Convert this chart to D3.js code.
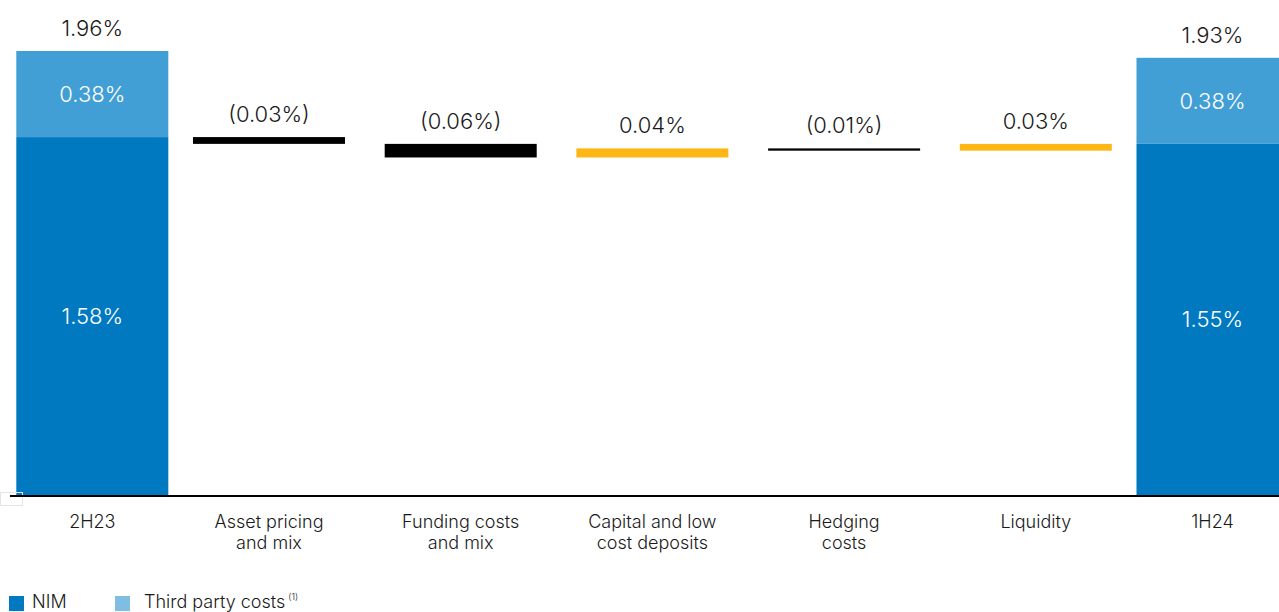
<!DOCTYPE html>
<html>
<head>
<meta charset="utf-8">
<script src="https://cdn.jsdelivr.net/npm/d3@7/dist/d3.min.js"></script>
<style>
  html, body { margin: 0; padding: 0; background: #fff; overflow: hidden; }
  svg { display: block; font-family: Inter, "Noto Sans", sans-serif; }
</style>
</head>
<body>
<svg id="chart" width="1279" height="612"></svg>
<script>
// ---- data ----
const categories = ["2H23", "Asset pricing\nand mix", "Funding costs\nand mix", "Capital and low\ncost deposits", "Hedging\ncosts", "Liquidity", "1H24"];
const nimValues = [1.58, null, null, null, null, null, 1.55];
const thirdPartyValues = [0.38, null, null, null, null, null, 0.38];
const totalValues = [1.96, null, null, null, null, null, 1.93];
const deltaValues = [null, -0.03, -0.06, 0.04, -0.01, 0.03, null];
const nimLabels = ["1.58%", "", "", "", "", "", "1.55%"];
const thirdPartyLabels = ["0.38%", "", "", "", "", "", "0.38%"];
const totalLabels = ["1.96%", "", "", "", "", "", "1.93%"];
const deltaLabels = ["", "(0.03%)", "(0.06%)", "0.04%", "(0.01%)", "0.03%", ""];
const legendLabels = ["NIM", "Third party costs"];

// ---- colours ----
const cNIM = "#0079c1", cTP = "#429fd5", cTPLegend = "#7fbde3", cUp = "#fdb714", cDown = "#000000", cText = "#1a1a1a";

const svg = d3.select("#chart");
const x = d3.scaleBand().domain(categories).range([1.3, 1303.5]).paddingInner(0.207).paddingOuter(0);
const y = d3.scaleLinear().domain([0, 1.96]).range([495, 51]);
const endShift = i => (i === 0 ? 15 : i === categories.length - 1 ? -15 : 0);
const bx = (d, i) => x(categories[i]) + endShift(i);
const cx = (d, i) => bx(d, i) + x.bandwidth() / 2;

// total bars
const totIdx = categories.map((c, i) => i).filter(i => nimValues[i] != null);
svg.selectAll("rect.nim").data(totIdx).join("rect")
  .attr("x", i => bx(null, i)).attr("width", x.bandwidth())
  .attr("y", i => y(nimValues[i])).attr("height", i => y(0) - y(nimValues[i]))
  .attr("fill", cNIM);
svg.selectAll("rect.tp").data(totIdx).join("rect")
  .attr("x", i => bx(null, i)).attr("width", x.bandwidth())
  .attr("y", i => y(nimValues[i] + thirdPartyValues[i])).attr("height", i => y(nimValues[i]) - y(nimValues[i] + thirdPartyValues[i]))
  .attr("fill", cTP);

// waterfall deltas
let running = nimValues[0];
const steps = [];
deltaValues.forEach((d, i) => {
  if (d == null) return;
  const start = running, end = running + d;
  steps.push({ i, start, end, d });
  running = end;
});
svg.selectAll("rect.delta").data(steps).join("rect")
  .attr("x", s => bx(null, s.i)).attr("width", x.bandwidth())
  .attr("y", s => y(Math.max(s.start, s.end)))
  .attr("height", s => Math.abs(y(s.start) - y(s.end)))
  .attr("fill", s => s.d < 0 ? cDown : cUp);

// axis baseline
svg.append("rect").attr("x", 0.5).attr("y", 492.5).attr("width", 22).attr("height", 13)
  .attr("fill", "none").attr("stroke", "#e4e4e4").attr("stroke-width", 1);
svg.append("line").attr("x1", 10).attr("x2", 1279).attr("y1", y(0) + 1).attr("y2", y(0) + 1)
  .attr("stroke", "#000").attr("stroke-width", 2);

// labels
const fs = 22;
svg.selectAll("text.tot").data(totIdx).join("text")
  .attr("x", i => cx(null, i)).attr("y", i => y(totalValues[i]) - 15)
  .attr("text-anchor", "middle").attr("font-size", fs).attr("fill", cText).attr("font-weight", 300)
  .text(i => totalLabels[i]);
svg.selectAll("text.tpl").data(totIdx).join("text")
  .attr("x", i => cx(null, i)).attr("y", i => (y(nimValues[i]) + y(nimValues[i] + thirdPartyValues[i])) / 2 + 8)
  .attr("text-anchor", "middle").attr("font-size", fs).attr("fill", "#fff").attr("font-weight", 300)
  .text(i => thirdPartyLabels[i]);
svg.selectAll("text.nml").data(totIdx).join("text")
  .attr("x", i => cx(null, i)).attr("y", i => (y(0) + y(nimValues[i])) / 2 + 8)
  .attr("text-anchor", "middle").attr("font-size", fs).attr("fill", "#fff").attr("font-weight", 300)
  .text(i => nimLabels[i]);
svg.selectAll("text.dl").data(steps).join("text")
  .attr("x", s => cx(null, s.i)).attr("y", s => y(Math.max(s.start, s.end)) - 15)
  .attr("text-anchor", "middle").attr("font-size", fs).attr("fill", cText).attr("font-weight", 300)
  .text(s => deltaLabels[s.i]);

// category labels
categories.forEach((c, i) => {
  const t = svg.append("text").attr("text-anchor", "middle").attr("font-size", 18).attr("fill", cText)
    .attr("font-weight", 300).attr("x", cx(null, i)).attr("y", 528);
  c.split("\n").forEach((line, k) => {
    t.append("tspan").attr("x", cx(null, i)).attr("dy", k === 0 ? 0 : 21).text(line);
  });
});

// legend
const leg = svg.append("g");
leg.append("rect").attr("x", 9).attr("y", 596).attr("width", 15).attr("height", 15).attr("fill", cNIM);
leg.append("text").attr("x", 32).attr("y", 608).attr("font-size", 18).attr("fill", cText).attr("font-weight", 300).text(legendLabels[0]);
leg.append("rect").attr("x", 115).attr("y", 596).attr("width", 15).attr("height", 15).attr("fill", cTPLegend);
const lt = leg.append("text").attr("x", 144).attr("y", 608).attr("font-size", 18).attr("fill", cText).attr("font-weight", 300).text(legendLabels[1]);
lt.append("tspan").attr("dx", 3).attr("dy", -8).attr("font-size", 9).text("(1)");
</script>
</body>
</html>
